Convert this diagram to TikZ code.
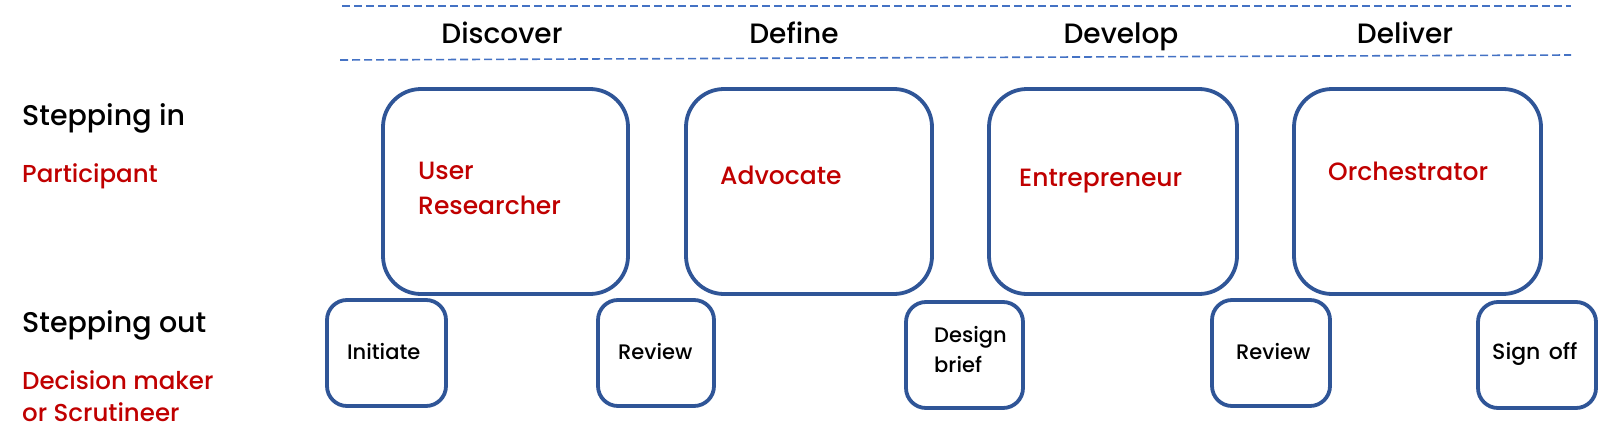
\documentclass[tikz,border=0pt]{standalone}
\usepackage{fontspec}
\setmainfont{Poppins}[UprightFont=* Medium]
\definecolor{boxblue}{HTML}{2F5597}
\definecolor{dashblue}{HTML}{4472C4}
\definecolor{labred}{HTML}{C00000}
\begin{document}
\begin{tikzpicture}[x=1pt,y=-1pt,
  bigbox/.style={draw=boxblue,line width=3.8pt,rounded corners=38pt},
  smallbox/.style={draw=boxblue,line width=3.8pt,rounded corners=20pt},
  phase/.style={anchor=base,font=\fontsize{28}{32}\selectfont,inner sep=0pt},
  rowlab/.style={anchor=base west,font=\fontsize{28.5}{32}\selectfont,inner sep=0pt},
  redlab/.style={anchor=base west,text=labred,font=\fontsize{24.5}{32}\selectfont,inner sep=0pt},
  rolelab/.style={anchor=base west,text=labred,font=\fontsize{25}{35}\selectfont,inner sep=0pt,align=left},
  steplab/.style={anchor=base west,font=\fontsize{21}{30}\selectfont,inner sep=0pt,align=left},
  sep/.style={draw=dashblue,line width=1.6pt,dash pattern=on 8pt off 4pt}]
\useasboundingbox (0,0) rectangle (1600,447);
% dashed separators
\coordinate (t1) at (342,6); \coordinate (t2) at (1571,6);
\coordinate (b1) at (340,60); \coordinate (b2) at (1571,55);
\draw[sep] (t1) -- (t2);
\draw[sep] (b1) -- (b2);
% phases
\node[phase] (discover) at (502,43) {Discover};
\node[phase] (define) at (794,43) {Define};
\node[phase] (develop) at (1121,43) {Develop};
\node[phase] (deliver) at (1405,43) {Deliver};
% row labels
\node[rowlab] (stepin) at (22,125) {Stepping in};
\node[redlab] (particip) at (22,182) {Participant};
\node[rowlab] (stepout) at (22,332) {Stepping out};
\node[redlab,align=left] (decision) at (22,421) {Decision maker\\or Scrutineer};
% big boxes
\draw[bigbox] (383,89) rectangle (628,294) node[midway] (box1) {};
\draw[bigbox] (686,89) rectangle (932,294) node[midway] (box2) {};
\draw[bigbox] (989,89) rectangle (1237,294) node[midway] (box3) {};
\draw[bigbox] (1294,89) rectangle (1541,294) node[midway] (box4) {};
\node[rolelab] (r1) at (418,214) {User\\Researcher};
\node[rolelab] (r2) at (720,184) {Advocate};
\node[rolelab] (r3) at (1019,186) {Entrepreneur};
\node[rolelab] (r4) at (1328,180) {Orchestrator};
% small boxes
\draw[smallbox] (327,300) rectangle (446,406) node[midway] (s1) {};
\draw[smallbox] (598,300) rectangle (714,406) node[midway] (s2) {};
\draw[smallbox] (906,302) rectangle (1023,408) node[midway] (s3) {};
\draw[smallbox] (1212,300) rectangle (1330,406) node[midway] (s4) {};
\draw[smallbox] (1478,302) rectangle (1596,408) node[midway] (s5) {};
\node[steplab] (l1) at (347,359) {Initiate};
\node[steplab] (l2) at (618,359) {Review};
\node[steplab] (l3) at (934,372) {Design\\brief};
\node[steplab] (l4) at (1236,359) {Review};
\node[steplab,font=\fontsize{22}{30}\selectfont] (l5) at (1492,359) {Sign\hspace{0.38em}off};
\end{tikzpicture}
\end{document}
